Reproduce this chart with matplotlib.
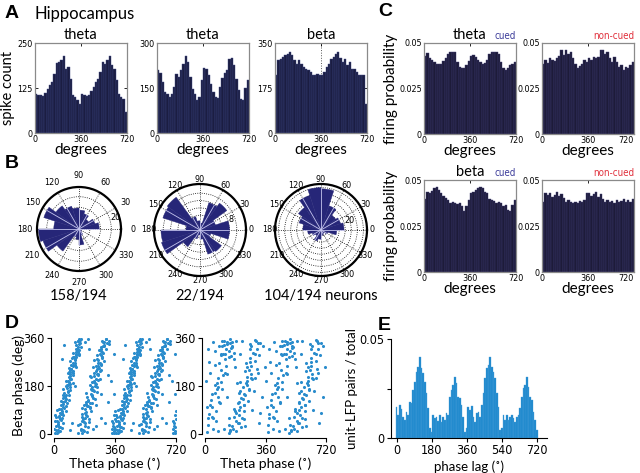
import matplotlib
matplotlib.use('Agg')
import matplotlib.pyplot as plt
import numpy as np

plt.rcParams['font.family'] = ['Lato', 'DejaVu Sans']
NARROW = ['Liberation Sans Narrow', 'DejaVu Sans']
BOLD = ['Liberation Sans', 'DejaVu Sans']

# ---------------- data ----------------
deg_ticks = [0, 360, 720]

# A: spike count per phase bin (0-720 deg, 40 bins)
a_titles = ['theta', 'theta', 'beta']
a_ymax = [250, 300, 350]
a_counts_1 = [108, 105, 106, 104, 112, 122, 132, 142, 165, 195, 197, 202, 214, 179, 183, 151, 105, 100, 91, 80,
              109, 105, 102, 105, 118, 128, 142, 151, 170, 197, 193, 202, 214, 188, 179, 146, 109, 100, 95, 58]
a_counts_2 = [209, 201, 170, 137, 131, 120, 131, 153, 198, 187, 209, 231, 257, 237, 187, 148, 131, 109, 120, 176,
              217, 214, 192, 164, 137, 120, 118, 153, 185, 200, 210, 245, 250, 225, 181, 142, 115, 109, 150, 178]
a_counts_3 = [224, 283, 287, 296, 302, 309, 315, 302, 283, 270, 283, 270, 257, 250, 244, 237, 224, 227, 231, 224,
              227, 237, 257, 270, 289, 296, 309, 315, 292, 276, 289, 263, 276, 250, 250, 237, 227, 224, 224, 114]

# B: rose histograms (20 bins of 18 deg)
b_labels = ['158/194', '22/194', '104/194 neurons']
b_counts_1 = [12.5, 10.4, 7.3, 9.9, 11.7, 13, 14.8, 17.7, 22.9, 15.6,
              25, 23.4, 16.9, 5.2, 6.5, 9.9, 3.9, 2, 1.3, 1.3]
b_counts_2 = [8, 4.4, 9, 7.8, 1.9, 2.5, 3.8, 11, 10.6, 3.8,
              10.6, 11, 5.6, 2.5, 1.3, 2.5, 6.9, 7.2, 3.1, 8]
b_counts_3 = [19, 17, 15, 21, 34, 35, 30, 23, 19, 15,
              11, 7.6, 5.7, 9.5, 7.6, 4.6, 3.8, 3, 5.7, 13]
b_rmax = [26, 12.5, 38]
b_rings = [[6.7, 13.3, 20], [2, 4, 6, 8, 10], [5, 10, 15, 20, 25, 30, 35]]
b_ring_text = [['', '', '20'], ['', '', '', '8', ''], ['', '', '', '20', '', '', '']]

# C: firing probability (40 bins over 0-720)
c_theta_cued = [0.0427, 0.0445, 0.0418, 0.0405, 0.0396, 0.0387, 0.0384, 0.0387, 0.0400, 0.0415,
                0.0438, 0.0449, 0.0451, 0.0449, 0.0396, 0.0369, 0.0360, 0.0365, 0.0378, 0.0400,
                0.0427, 0.0433, 0.0424, 0.0405, 0.0396, 0.0387, 0.0391, 0.0405, 0.0438, 0.0449,
                0.0451, 0.0451, 0.0442, 0.0396, 0.0360, 0.0351, 0.0365, 0.0378, 0.0387, 0.0396]
c_theta_noncued = [0.0387, 0.0405, 0.0391, 0.0415, 0.0405, 0.0402, 0.0420, 0.0427, 0.0464, 0.0433,
                   0.0460, 0.0442, 0.0451, 0.0415, 0.0387, 0.0360, 0.0373, 0.0387, 0.0405, 0.0396,
                   0.0420, 0.0409, 0.0424, 0.0415, 0.0424, 0.0464, 0.0464, 0.0442, 0.0451, 0.0415,
                   0.0396, 0.0424, 0.0396, 0.0369, 0.0378, 0.0351, 0.0369, 0.0360, 0.0378, 0.0396]
c_beta_cued = [0.0395, 0.0437, 0.0428, 0.0442, 0.0455, 0.0460, 0.0446, 0.0428, 0.0413, 0.0401,
               0.0392, 0.0377, 0.0383, 0.0374, 0.0370, 0.0374, 0.0356, 0.0329, 0.0356, 0.0392,
               0.0428, 0.0437, 0.0446, 0.0455, 0.0464, 0.0455, 0.0437, 0.0428, 0.0395, 0.0392,
               0.0388, 0.0374, 0.0383, 0.0374, 0.0356, 0.0365, 0.0338, 0.0329, 0.0365, 0.0392]
c_beta_noncued = [0.0383, 0.0428, 0.0419, 0.0428, 0.0410, 0.0419, 0.0437, 0.0413, 0.0424, 0.0401,
                  0.0383, 0.0392, 0.0383, 0.0374, 0.0383, 0.0377, 0.0388, 0.0383, 0.0392, 0.0428,
                  0.0428, 0.0413, 0.0424, 0.0437, 0.0410, 0.0424, 0.0395, 0.0383, 0.0392, 0.0383,
                  0.0388, 0.0377, 0.0392, 0.0383, 0.0388, 0.0395, 0.0383, 0.0392, 0.0383, 0.0395]

# D: (theta phase, beta phase) of spikes over one theta cycle, shown twice (0-360 and 360-720)
d1_points = [
    (6, 5), (34, 12), (2, 20), (30, 28), (22, 35), (52, 42), (18, 50), (36, 58), (14, 65), (53, 72),
    (36, 80), (72, 88), (32, 95), (56, 102), (44, 110), (77, 118), (40, 125), (72, 132), (64, 140), (90, 148),
    (58, 155), (81, 162), (54, 170), (96, 178), (76, 185), (111, 192), (72, 200), (95, 208), (86, 215), (114, 222),
    (81, 230), (111, 238), (103, 245), (131, 252), (99, 260), (126, 268), (94, 275), (125, 282), (115, 290), (145, 298),
    (114, 305), (139, 312), (134, 320), (161, 328), (129, 335), (156, 342), (141, 350), (157, 356),
    (22, 15), (23, 45), (40, 75), (68, 105), (55, 135), (93, 165), (88, 195), (94, 225), (115, 255), (104, 285),
    (148, 315), (125, 345), (47, 60), (56, 120), (68, 180), (93, 240), (130, 300), (148, 358), (25, 8), (28, 68),
    (87, 128), (95, 188), (86, 248), (127, 308),
    (19, 2), (13, 14), (33, 26), (25, 38), (40, 52), (29, 64), (47, 78), (44, 92), (61, 98), (56, 112),
    (67, 124), (59, 138), (71, 146), (85, 158), (75, 172), (90, 186), (80, 198), (100, 206), (95, 218), (106, 232),
    (99, 244), (121, 258), (112, 266), (126, 278), (117, 288), (129, 296), (140, 306), (127, 318), (139, 326), (149, 338),
    (143, 348), (151, 354), (83, 184), (48, 86), (91, 234), (55, 146),
    (352, 10), (356, 25), (350, 40), (358, 55), (345, 18), (354, 70), (340, 3), (359, 85), (10, 30), (5, 48),
    (20, 90), (45, 22), (348, 30), (355, 5), (343, 48), (8, 70),
    (141, 3), (179, 10), (162, 18), (200, 25), (143, 32), (184, 40), (167, 48), (204, 55), (163, 62), (190, 70),
    (183, 78), (220, 85), (181, 92), (210, 100), (175, 108), (224, 115), (203, 122), (240, 130), (197, 138), (224, 145),
    (189, 152), (238, 160), (217, 168), (254, 175), (213, 182), (240, 190), (235, 198), (272, 205), (219, 212), (260, 220),
    (237, 228), (274, 235), (255, 242), (230, 250), (279, 258), (258, 265), (295, 272), (254, 280), (281, 288), (254, 295),
    (291, 302), (278, 310), (309, 318), (278, 325), (293, 332), (314, 340), (283, 348), (308, 355),
    (171, 15), (206, 45), (164, 75), (202, 105), (230, 135), (224, 165), (224, 195), (252, 225), (246, 255), (286, 285),
    (266, 315), (296, 345), (180, 60), (188, 120), (242, 180), (280, 240), (270, 300), (326, 350), (194, 6), (156, 36),
    (164, 96), (252, 156), (212, 216), (238, 276), (324, 336),
    (168, 4), (158, 16), (182, 30), (176, 44), (172, 56), (195, 68), (189, 82), (210, 96), (196, 106), (211, 118),
    (199, 128), (226, 142), (217, 150), (232, 164), (222, 176), (245, 186), (236, 196), (248, 208), (237, 218), (257, 226),
    (250, 238), (268, 246), (261, 256), (271, 268), (260, 278), (284, 290), (275, 298), (286, 308), (279, 320), (298, 330),
    (292, 344), (304, 356), (189, 112), (257, 202), (279, 262),
    (300, 40), (320, 120), (335, 200), (250, 30), (205, 320), (185, 345), (95, 15), (60, 335), (280, 150), (110, 230),
    (130, 290), (352, 300), (250, 110), (200, 355), (275, 60), (320, 220), (150, 300), (105, 40), (355, 150), (290, 330),
    (45, 280), (230, 20), (125, 180),
]
d2_points = [
    (12, 8), (47, 20), (15, 35), (68, 50), (43, 62), (23, 75), (65, 88), (44, 100), (88, 115), (33, 128),
    (77, 140), (58, 155), (100, 168), (76, 175), (58, 182), (96, 195), (76, 210), (128, 225), (95, 240), (126, 255),
    (81, 268), (120, 280), (157, 292), (108, 300), (144, 310), (127, 318), (162, 325), (112, 332), (148, 340), (130, 345),
    (185, 350), (147, 355), (96, 296), (99, 330), (170, 305), (130, 338), (156, 322), (116, 348),
    (142, 5), (185, 12), (168, 20), (216, 28), (144, 35), (202, 42), (185, 50), (233, 58), (171, 65), (204, 72),
    (187, 80), (233, 88), (173, 95), (211, 102), (234, 110), (197, 118), (258, 125), (216, 135), (240, 145), (202, 155),
    (261, 165), (228, 175), (252, 185), (210, 195), (282, 205), (251, 215), (275, 225), (239, 235), (308, 245), (272, 255),
    (241, 265), (300, 275), (269, 285), (323, 295), (287, 305), (312, 318), (274, 330), (315, 342), (299, 352), (162, 30),
    (219, 60), (201, 90), (230, 150), (276, 210), (268, 270), (265, 338),
    (150, 10), (195, 40), (178, 85), (225, 130), (250, 200), (262, 240), (300, 300), (330, 340), (50, 60), (30, 110),
    (70, 170), (105, 220), (140, 290), (160, 345), (60, 310), (85, 330), (20, 60), (120, 300), (210, 160), (245, 190),
    (5, 200), (20, 320), (40, 150), (60, 260), (80, 10), (100, 350), (120, 230), (140, 60), (160, 330), (180, 250),
    (200, 120), (220, 350), (240, 30), (260, 170), (280, 90), (300, 210), (320, 40), (340, 140), (355, 250), (10, 100),
    (30, 230), (70, 190), (95, 300), (130, 140), (150, 15), (175, 280), (210, 300), (235, 110), (270, 320), (290, 160),
    (315, 230), (330, 80), (345, 330), (25, 270), (85, 120), (115, 20), (190, 190), (250, 250), (305, 350), (50, 345),
]

# E: fraction of unit-LFP pairs per phase-lag bin (0-720)
e_frac = [0.0158, 0.0116, 0.0167, 0.0146, 0.0108, 0.0091, 0.0130, 0.0116, 0.0184, 0.0175,
          0.0242, 0.0285, 0.0335, 0.0360, 0.0410, 0.0352, 0.0327, 0.0285, 0.0226, 0.0150,
          0.0049, 0.0032, 0.0116, 0.0099, 0.0108, 0.0086, 0.0116, 0.0079, 0.0108, 0.0091,
          0.0125, 0.0116, 0.0209, 0.0242, 0.0268, 0.0310, 0.0276, 0.0209, 0.0200, 0.0167,
          0.0108, 0.0032, 0.0049, 0.0158, 0.0141, 0.0163, 0.0108, 0.0082, 0.0125, 0.0133,
          0.0108, 0.0167, 0.0226, 0.0301, 0.0352, 0.0369, 0.0410, 0.0360, 0.0335, 0.0301,
          0.0226, 0.0158, 0.0040, 0.0049, 0.0116, 0.0091, 0.0116, 0.0091, 0.0108, 0.0116,
          0.0099, 0.0082, 0.0108, 0.0116, 0.0150, 0.0209, 0.0251, 0.0268, 0.0310, 0.0259,
          0.0209, 0.0192, 0.0133, 0.0091, 0.0040]

NAVY = '#1b1d42'
ROSE = '#262678'
DOTS = '#2a8ccc'
EBAR = '#1c87cc'


def px(x0, y0, x1, y1):
    # pixel box (top-left origin) -> figure fraction rect
    return [x0 / 640, 1 - y1 / 473, (x1 - x0) / 640, (y1 - y0) / 473]


def narrow_ticks(ax, size):
    for t in ax.get_xticklabels() + ax.get_yticklabels():
        t.set_family(NARROW)
        t.set_stretch('condensed')
        t.set_fontsize(size)


def box_hist(ax, vals, ymax, yticks, ylabels, color, edge):
    n = len(vals)
    w = 720 / n
    x = np.arange(n) * w + w / 2
    ax.bar(x, vals, width=w, color=color, edgecolor=edge, linewidth=0.3, zorder=2)
    ax.set_xlim(0, 720)
    ax.set_ylim(0, ymax)
    ax.set_xticks(deg_ticks)
    ax.set_xticklabels([str(d) for d in deg_ticks])
    ax.set_yticks(yticks)
    ax.set_yticklabels(ylabels)
    for s in ax.spines.values():
        s.set_color('#8a8a8a')
        s.set_linewidth(0.9)
    ax.tick_params(direction='in', length=2, width=0.6, top=True, right=True, pad=1.5, colors='k')
    narrow_ticks(ax, 6.5)
    ax.set_xlabel('degrees', fontsize=11, labelpad=-1)


fig = plt.figure(figsize=(6.4, 4.73), dpi=100)

# ---- A ----
a_sets = [a_counts_1, a_counts_2, a_counts_3]
a_x = [(35, 127), (157, 249), (275, 367)]
for i in range(3):
    ax = fig.add_axes(px(a_x[i][0], 43, a_x[i][1], 133))
    ym = a_ymax[i]
    box_hist(ax, a_sets[i], ym, [0, ym / 2, ym], ['0', str(int(ym / 2)), str(ym)], NAVY, '#3c4580')
    ax.set_title(a_titles[i], fontsize=10.5, pad=3)
    if i == 0:
        ax.set_ylabel('spike count', fontsize=10.5)
        ax.yaxis.set_label_coords(-0.215, 0.5)
    if i == 2:
        ax.axvline(360, color='#555555', lw=0.7, ls=':', zorder=1)

# ---- B ----
b_sets = [b_counts_1, b_counts_2, b_counts_3]
b_boxes = [(37, 187, 121, 271), (154, 184, 246, 276), (275, 184, 367, 276)]
b_centers = [79, 200, 321]
b_pads = [-2, -7, -7]
for i in range(3):
    ax = fig.add_axes(px(*b_boxes[i]), projection='polar')
    vals = b_sets[i]
    nb = len(vals)
    step = 360 / nb
    edges = np.arange(nb) * step
    ax.bar(np.deg2rad(edges + step / 2), vals, width=np.deg2rad(step), color=ROSE,
           edgecolor=ROSE, linewidth=0.3, zorder=2)
    # light spokes running through the filled wedges
    for a in range(0, 360, 30):
        k = int(a // step)
        r = vals[k]
        if a % step == 0:
            r = max(vals[k], vals[k - 1])
        ax.plot([np.deg2rad(a)] * 2, [0, r], color='#c4c4ee', lw=0.6, zorder=3)
    ax.set_ylim(0, b_rmax[i])
    ax.set_yticks(b_rings[i])
    ax.set_yticklabels(b_ring_text[i], family=NARROW, stretch='condensed', fontsize=6.5)
    ax.set_rlabel_position(12)
    ax.set_xticks(np.deg2rad(np.arange(0, 360, 30)))
    ax.set_xticklabels([str(a) for a in range(0, 360, 30)], family=NARROW, stretch='condensed', fontsize=6.5)
    ax.tick_params(axis='x', pad=b_pads[i])
    ax.grid(True, ls=':', color='k', lw=0.6)
    ax.set_axisbelow(True)
    ax.spines['polar'].set_linewidth(1.6)
    fig.text(b_centers[i] / 640, 1 - 296 / 473, b_labels[i], ha='center', va='center', fontsize=10.5)

# ---- C ----
c_sets = [c_theta_cued, c_theta_noncued, c_beta_cued, c_beta_noncued]
c_rows = [(43, 134), (180, 272)]
c_cols = [(424, 516), (542, 634)]
c_row_titles = ['theta', 'beta']
for r in range(2):
    for c in range(2):
        ax = fig.add_axes(px(c_cols[c][0], c_rows[r][0], c_cols[c][1], c_rows[r][1]))
        box_hist(ax, c_sets[2 * r + c], 0.05, [0, 0.025, 0.05], ['0', '0.025', '0.05'], '#1d1b39', '#3d3a70')
        if c == 0:
            ax.set_title(c_row_titles[r], fontsize=10.5, pad=3)
            ax.set_ylabel('firing probability', fontsize=11)
            ax.yaxis.set_label_coords(-0.28, 0.5)
            ax.text(1.0, 1.02, 'cued', transform=ax.transAxes, ha='right', va='bottom',
                    fontsize=7, color='#3c3c9a', family=NARROW, stretch='condensed')
        else:
            ax.text(1.0, 1.02, 'non-cued', transform=ax.transAxes, ha='right', va='bottom',
                    fontsize=7, color='#e0303c', family=NARROW, stretch='condensed')
            ax.get_xticklabels()[-1].set_ha('right')

# ---- D ----
d_sets = [d1_points, d2_points]
d_x = [(54, 176), (205, 326)]
for i in range(2):
    ax = fig.add_axes(px(d_x[i][0], 338, d_x[i][1], 434))
    pts = np.array(d_sets[i], dtype=float)
    th = np.concatenate([pts[:, 0], pts[:, 0] + 360])
    be = np.concatenate([pts[:, 1], pts[:, 1]])
    ax.scatter(th, be, s=5, color=DOTS, linewidths=0, zorder=2)
    ax.set_xlim(0, 720)
    ax.set_ylim(0, 360)
    ax.set_xticks(deg_ticks)
    ax.set_yticks([0, 180, 360])
    for s in ['top', 'right']:
        ax.spines[s].set_visible(False)
    ax.spines['left'].set_position(('outward', 2))
    ax.spines['bottom'].set_position(('outward', 3))
    ax.tick_params(length=3, width=0.8, pad=1.5)
    narrow_ticks(ax, 9)
    ax.set_xlabel('Theta phase (˚)', fontsize=10, labelpad=0)
    if i == 0:
        ax.set_ylabel('Beta phase (deg)', fontsize=10)
        ax.yaxis.set_label_coords(-0.24, 0.5)

# ---- E ----
ax = fig.add_axes(px(391, 339, 547, 438))
n = len(e_frac)
w = 720 / (n - 1)
ax.bar(np.arange(n) * w, e_frac, width=w, color=EBAR, edgecolor='#4aa0da', linewidth=0.25)
ax.set_xlim(-29, 773)
ax.set_ylim(0, 0.05)
ax.set_xticks([0, 180, 360, 540, 720])
ax.set_yticks([0, 0.025, 0.05])
ax.set_yticklabels(['0', '', '0.05'])
for s in ['top', 'right']:
    ax.spines[s].set_visible(False)
ax.tick_params(length=3, width=0.8, pad=1.5)
narrow_ticks(ax, 9)
ax.set_xlabel('phase lag (˚)', fontsize=9.5, labelpad=2)
ax.set_ylabel('unit-LFP pairs / total', fontsize=9.5)
ax.yaxis.set_label_coords(-0.21, 0.5)

# ---- panel letters / header ----
for lab, x, y in [('A', 5, 13), ('B', 5, 163), ('C', 378, 12), ('D', 5, 323), ('E', 378, 325)]:
    fig.text(x / 640, 1 - y / 473, lab, fontsize=14, fontweight='bold', family=BOLD, va='center')
fig.text(35 / 640, 1 - 14 / 473, 'Hippocampus', fontsize=12, va='center')

fig.savefig('out.png', dpi=100)
